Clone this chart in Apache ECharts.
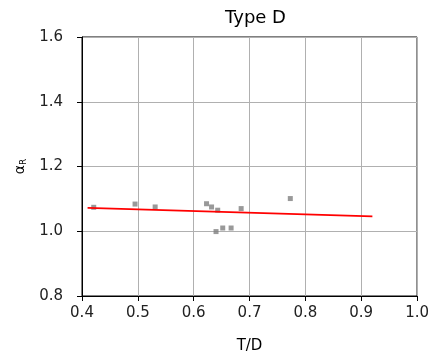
<!DOCTYPE html>
<html><head><meta charset="utf-8">
<script src="https://cdn.jsdelivr.net/npm/echarts@6/dist/echarts.min.js"></script>
<style>html,body{margin:0;padding:0;background:#fff}#c{width:432px;height:360px}</style>
</head><body><div id="c"></div>
<script>
const titleText = 'Type D';
const xName = 'T/D';
const pointsX = [0.421, 0.495, 0.531, 0.623, 0.632, 0.643, 0.685, 0.773, 0.640, 0.652, 0.667];
const pointsY = [1.074, 1.084, 1.075, 1.085, 1.075, 1.065, 1.070, 1.101, 0.999, 1.010, 1.010];
const fitX = [0.41, 0.92];
const fitY = [1.072, 1.046];
const xTicks = [0.4, 0.5, 0.6, 0.7, 0.8, 0.9, 1.0];
const yTicks = [0.8, 1.0, 1.2, 1.4, 1.6];

const font = 'DejaVu Sans';
const chart = echarts.init(document.getElementById('c'), null, {renderer:'canvas'});
chart.setOption({
  animation: false,
  backgroundColor: '#fff',
  title: {text: titleText, left: 250.5, textAlign: 'center', top: 4,
    textStyle: {fontFamily: font, fontSize: 18, fontWeight: 'normal', color: '#000'}},
  grid: {left: 82, right: 13, top: 37, bottom: 64, show: true, borderColor: '#000', borderWidth: 1},
  xAxis: {type: 'value', min: 0.4, max: 1.0, interval: 0.1,
    name: xName, nameLocation: 'middle', nameGap: 43,
    nameTextStyle: {fontFamily: font, fontSize: 15, color: '#000'},
    axisLine: {lineStyle: {color: '#000'}},
    axisTick: {show: true, length: 5, lineStyle: {color: '#000'}},
    axisLabel: {fontFamily: font, fontSize: 15, color: '#222', margin: 10,
      formatter: v => v.toFixed(1)},
    splitLine: {show: true, lineStyle: {color: '#b0b0b0', width: 1}}},
  yAxis: {type: 'value', min: 0.8, max: 1.6, interval: 0.2,
    name: '{a|α}{s|R}', nameLocation: 'middle', nameGap: 54, nameRotate: 90,
    nameTextStyle: {rich: {a: {fontFamily: font, fontSize: 14, color: '#000'},
      s: {fontFamily: font, fontSize: 9, color: '#000', verticalAlign: 'bottom', padding: [7,0,0,0]}}},
    axisLine: {show: true, lineStyle: {color: '#000'}},
    axisTick: {show: true, length: 5, lineStyle: {color: '#000'}},
    axisLabel: {fontFamily: font, fontSize: 15, color: '#222', margin: 19,
      formatter: v => v.toFixed(1)},
    splitLine: {show: true, lineStyle: {color: '#b0b0b0', width: 1}}},
  series: [
    {type: 'scatter', symbol: 'rect', symbolSize: 5,
     itemStyle: {color: '#7f7f7f'},
     data: pointsX.map((x, i) => [x, pointsY[i]])},
    {type: 'line', symbol: 'none', lineStyle: {color: '#ff0000', width: 1.8},
     data: fitX.map((x, i) => [x, fitY[i]])}
  ]
});
</script></body></html>
